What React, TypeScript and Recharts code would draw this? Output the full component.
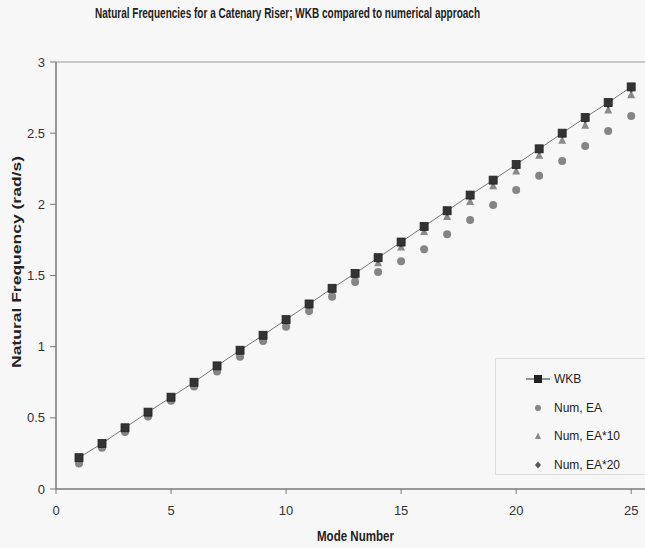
import React from "react";
import {
  ComposedChart,
  Line,
  XAxis,
  YAxis,
  ReferenceLine,
  Legend,
} from "recharts";

// mode numbers and natural frequencies (rad/s)
const modes = [1, 2, 3, 4, 5, 6, 7, 8, 9, 10, 11, 12, 13, 14, 15, 16, 17, 18, 19, 20, 21, 22, 23, 24, 25];
const wkb = [0.22, 0.32, 0.43, 0.54, 0.645, 0.75, 0.865, 0.975, 1.08, 1.19, 1.3, 1.41, 1.515, 1.625, 1.735, 1.845, 1.955, 2.065, 2.17, 2.28, 2.39, 2.5, 2.61, 2.715, 2.825];
const numEA = [0.18, 0.29, 0.4, 0.51, 0.62, 0.72, 0.825, 0.93, 1.04, 1.14, 1.25, 1.35, 1.455, 1.525, 1.6, 1.685, 1.79, 1.89, 1.995, 2.1, 2.2, 2.305, 2.41, 2.515, 2.62];
const numEA10 = [0.215, 0.315, 0.425, 0.53, 0.635, 0.74, 0.85, 0.96, 1.065, 1.17, 1.275, 1.385, 1.49, 1.59, 1.7, 1.81, 1.915, 2.02, 2.13, 2.235, 2.345, 2.45, 2.556, 2.663, 2.77];
const numEA20 = [0.22, 0.32, 0.43, 0.535, 0.64, 0.745, 0.86, 0.97, 1.075, 1.18, 1.29, 1.4, 1.505, 1.615, 1.725, 1.835, 1.945, 2.055, 2.16, 2.27, 2.38, 2.49, 2.595, 2.7, 2.81];

const xTicks = [0, 5, 10, 15, 20, 25];
const yTicks = [0, 0.5, 1, 1.5, 2, 2.5, 3];

const chartData = modes.map((m, i) => ({
  mode: m,
  wkb: wkb[i],
  ea: numEA[i],
  ea10: numEA10[i],
  ea20: numEA20[i],
}));

const FONT = "'Liberation Sans', Arial, sans-serif";
const BG = "#f7f7f7";

const squareDot = (props: any) => {
  const { cx, cy, index } = props;
  if (cx == null || cy == null) return <g key={`s${index}`} />;
  return <rect key={`s${index}`} x={cx - 4} y={cy - 4} width={8} height={8} fill="#333" stroke="#222" strokeWidth={0.8} />;
};

const circleDot = (props: any) => {
  const { cx, cy, index } = props;
  if (cx == null || cy == null) return <g key={`c${index}`} />;
  return <circle key={`c${index}`} cx={cx} cy={cy} r={4} fill="#858585" />;
};

const triangleDot = (props: any) => {
  const { cx, cy, index } = props;
  if (cx == null || cy == null) return <g key={`t${index}`} />;
  return (
    <path
      key={`t${index}`}
      d={`M${cx},${cy - 4.5} L${cx + 4},${cy + 3.5} L${cx - 4},${cy + 3.5} Z`}
      fill="#8a8a8a"
    />
  );
};

const diamondDot = (props: any) => {
  const { cx, cy, index } = props;
  if (cx == null || cy == null) return <g key={`d${index}`} />;
  return (
    <path
      key={`d${index}`}
      d={`M${cx},${cy - 4} L${cx + 3.5},${cy} L${cx},${cy + 4} L${cx - 3.5},${cy} Z`}
      fill="#555"
    />
  );
};

const legendItems = [
  { name: "WKB", kind: "wkb" },
  { name: "Num, EA", kind: "circle" },
  { name: "Num, EA*10", kind: "triangle" },
  { name: "Num, EA*20", kind: "diamond" },
];

const LegendBox = () => (
  <div style={styles.legendBox}>
    {legendItems.map((item) => (
      <div key={item.name} style={styles.legendRow}>
        <svg width={26} height={14} style={{ marginRight: 2 }}>
          {item.kind === "wkb" && (
            <>
              <line x1={0} y1={7} x2={24} y2={7} stroke="#333" strokeWidth={1} />
              <rect x={8} y={3} width={8} height={8} fill="#222" />
            </>
          )}
          {item.kind === "circle" && <circle cx={12} cy={7} r={3} fill="#858585" />}
          {item.kind === "triangle" && <path d="M12,3.5 L15,10 L9,10 Z" fill="#8a8a8a" />}
          {item.kind === "diamond" && <path d="M12,3.5 L15,7 L12,10.5 L9,7 Z" fill="#555" />}
        </svg>
        <span>{item.name}</span>
      </div>
    ))}
  </div>
);

export default function App() {
  return (
    <div style={styles.page}>
      <ComposedChart
        width={645}
        height={548}
        data={chartData}
        margin={{ top: 62, right: 0, bottom: 0, left: 0 }}
      >
        <XAxis
          dataKey="mode"
          type="number"
          domain={[0, 25.6]}
          ticks={xTicks}
          allowDataOverflow
          height={59}
          tick={{ fontFamily: FONT, fontSize: 13, fill: "#333" }}
          tickSize={5}
          tickMargin={12}
          axisLine={{ stroke: "#7a7a7a", strokeWidth: 1.5 }}
          tickLine={{ stroke: "#7a7a7a" }}
        />
        <YAxis
          type="number"
          domain={[0, 3]}
          ticks={yTicks}
          width={56}
          tick={{ fontFamily: FONT, fontSize: 13, fill: "#333" }}
          tickSize={6}
          tickMargin={5}
          axisLine={{ stroke: "#7a7a7a", strokeWidth: 1.5 }}
          tickLine={{ stroke: "#7a7a7a" }}
        />
        <ReferenceLine y={3} stroke="#999" strokeWidth={1} />
        <Legend
          layout="vertical"
          align="center"
          verticalAlign="middle"
          wrapperStyle={{ left: 495, top: 358, width: 150 }}
          content={() => <LegendBox />}
        />
        <Line dataKey="ea" stroke="none" dot={circleDot} activeDot={false} isAnimationActive={false} />
        <Line dataKey="ea10" stroke="none" dot={triangleDot} activeDot={false} isAnimationActive={false} />
        <Line dataKey="ea20" stroke="none" dot={diamondDot} activeDot={false} isAnimationActive={false} />
        <Line
          type="linear"
          dataKey="wkb"
          stroke="#777"
          strokeWidth={1}
          dot={squareDot}
          activeDot={false}
          isAnimationActive={false}
        />
      </ComposedChart>
      <svg width={645} height={548} style={styles.overlay}>
        <text
          x={95}
          y={18}
          fontFamily={FONT}
          fontSize={14}
          fontWeight="bold"
          fill="#222"
          textLength={385}
          lengthAdjust="spacingAndGlyphs"
        >
          Natural Frequencies for a Catenary Riser; WKB compared to numerical approach
        </text>
        <text
          x={317}
          y={541}
          fontFamily={FONT}
          fontSize={14}
          fontWeight="bold"
          fill="#222"
          textLength={77}
          lengthAdjust="spacingAndGlyphs"
        >
          Mode Number
        </text>
        <text
          transform="translate(21, 368) rotate(-90)"
          x={0}
          y={0}
          fontFamily={FONT}
          fontSize={12}
          fontWeight="bold"
          fill="#222"
          textLength={212}
          lengthAdjust="spacingAndGlyphs"
        >
          Natural Frequency (rad/s)
        </text>
      </svg>
    </div>
  );
}

const styles: Record<string, React.CSSProperties> = {
  page: {
    position: "absolute",
    left: 0,
    top: 0,
    width: 645,
    height: 548,
    background: BG,
    overflow: "hidden",
  },
  overlay: {
    position: "absolute",
    left: 0,
    top: 0,
    pointerEvents: "none",
  },
  legendBox: {
    boxSizing: "border-box",
    width: 150,
    height: 117,
    border: "1px solid #dcdcdc",
    borderRight: "none",
    padding: "6px 0 0 30px",
    fontFamily: FONT,
    fontSize: 12,
    color: "#222",
  },
  legendRow: {
    display: "flex",
    alignItems: "center",
    height: 28.5,
  },
};
